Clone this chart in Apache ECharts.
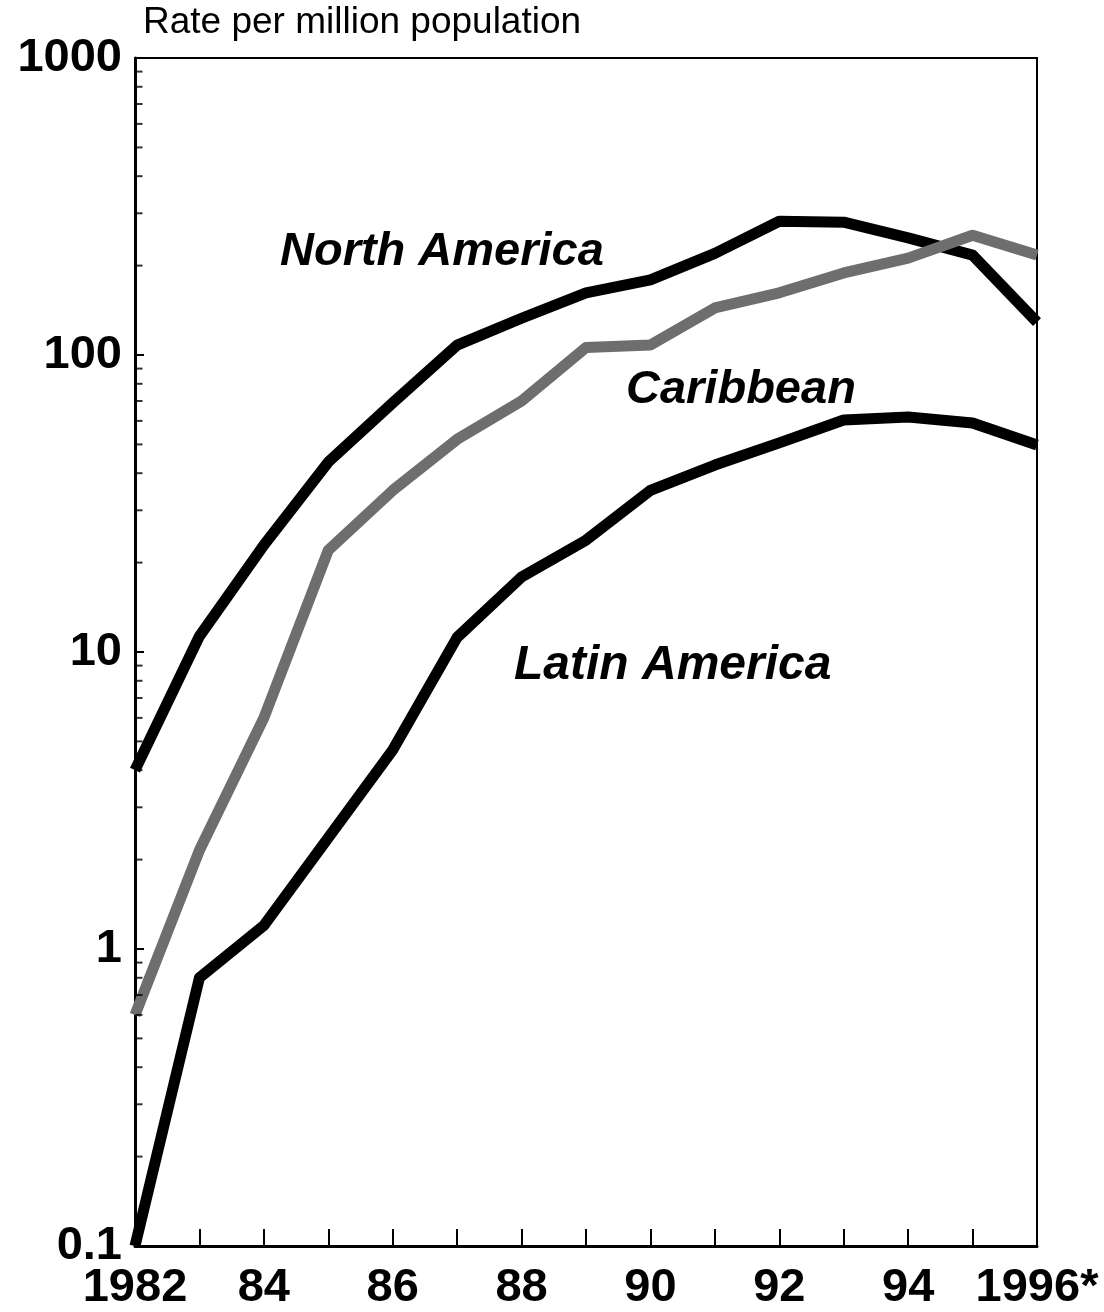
<!DOCTYPE html>
<html>
<head>
<meta charset="utf-8">
<script src="https://cdn.jsdelivr.net/npm/echarts@6/dist/echarts.min.js"></script>
<style>
html,body{margin:0;padding:0;background:#fff;}
#chart{width:1104px;height:1312px;}
</style>
</head>
<body>
<div id="chart"></div>
<script>
var years = ['1982','83','84','85','86','87','88','89','90','91','92','93','94','95','1996*'];
var northAmerica = [4.0, 11.3, 22.9, 43.6, 69, 108, 133, 162, 179, 220, 282, 280, 248, 217, 129];
var caribbean    = [0.6, 2.15, 6.0, 22, 35, 52, 70, 106, 108, 144, 162, 189, 212, 253, 217];
var latinAmerica = [0.1, 0.8, 1.2, 2.37, 4.68, 11.2, 17.9, 23.8, 35, 42.6, 50.6, 60.4, 61.8, 59, 49.8];
var minorTickValues = [0.2,0.3,0.4,0.5,0.6,0.7,0.8,0.9, 2,3,4,5,6,7,8,9, 20,30,40,50,60,70,80,90, 200,300,400,500,600,700,800,900];

var FONT = "'Liberation Sans', Arial, sans-serif";
var chart = echarts.init(document.getElementById('chart'));
var lineBase = {type:'line', symbol:'none', smooth:false, z:3};
chart.setOption({
  animation:false,
  backgroundColor:'#fff',
  grid:{left:135, right:67, top:58, bottom:66, show:true, borderColor:'#000', borderWidth:2, backgroundColor:'transparent'},
  xAxis:{
    type:'category', data:years, boundaryGap:false,
    axisLine:{lineStyle:{color:'#000', width:3}},
    axisTick:{inside:true, length:17, interval:0, lineStyle:{color:'#000', width:2}},
    axisLabel:{interval:1, color:'#000', fontFamily:FONT, fontWeight:'bold', fontSize:47, margin:19},
    splitLine:{show:false}
  },
  yAxis:{
    type:'log', logBase:10, min:0.1, max:1000,
    axisLine:{show:true, lineStyle:{color:'#000', width:3}},
    axisTick:{show:true, inside:true, length:9, lineStyle:{color:'#000', width:2}},
    axisLabel:{color:'#000', fontFamily:FONT, fontWeight:'bold', fontSize:47, margin:13,
      formatter:function(v){ return v < 1 ? String(Math.round(v*10)/10) : String(Math.round(v)); }},
    splitLine:{show:false}
  },
  graphic:[
    {type:'text', left:143, top:4, style:{text:'Rate per million population', font:'37px '+FONT, fill:'#000'}},
    {type:'text', left:280, top:229, style:{text:'North America', font:'italic bold 47px '+FONT, fill:'#000'}},
    {type:'text', left:626, top:367, style:{text:'Caribbean', font:'italic bold 47px '+FONT, fill:'#000'}},
    {type:'text', left:514, top:642, style:{text:'Latin America', font:'italic bold 48px '+FONT, fill:'#000'}}
  ],
  series:[
    Object.assign({}, lineBase, {name:'North America', data:northAmerica, lineStyle:{color:'#000', width:11, join:'round', cap:'butt'}}),
    Object.assign({}, lineBase, {name:'Latin America', data:latinAmerica, lineStyle:{color:'#000', width:11, join:'round', cap:'butt'}}),
    Object.assign({}, lineBase, {name:'Caribbean', data:caribbean, lineStyle:{color:'#6e6e6e', width:11, join:'round', cap:'butt'}}),
    {type:'scatter', name:'minorTicks', silent:true, z:4,
      data:minorTickValues.map(function(v){ return [years[0], v]; }),
      symbol:'rect', symbolSize:[7,2], symbolOffset:[4,0], itemStyle:{color:'#000'}}
  ]
});
</script>
</body>
</html>
